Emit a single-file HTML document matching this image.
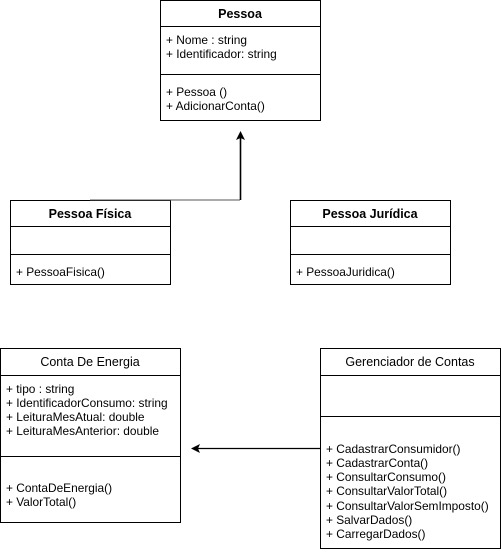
<!DOCTYPE html>
<html><head><style>body{margin:0;background:#fff}svg{display:block}text{font-family:"Liberation Sans",Arial,sans-serif;font-size:11.9px;fill:#000}.t{font-size:12.5px;font-weight:bold}.n{font-size:12.5px}</style></head><body>
<svg width="501" height="552" xmlns="http://www.w3.org/2000/svg">
<g fill="none" stroke="#000" stroke-width="1">
<rect x="160.5" y="0.5" width="160" height="120"/><line x1="160" y1="26.5" x2="320" y2="26.5"/><line x1="160" y1="74.5" x2="320" y2="74.5"/>
<rect x="10.5" y="200.5" width="160" height="84"/><line x1="10" y1="226.5" x2="170" y2="226.5"/><line x1="10" y1="254.5" x2="170" y2="254.5"/>
<rect x="290.5" y="200.5" width="160" height="84"/><line x1="290" y1="226.5" x2="450" y2="226.5"/><line x1="290" y1="254.5" x2="450" y2="254.5"/>
<rect x="0.5" y="348.5" width="180" height="174"/><line x1="0" y1="375.5" x2="180" y2="375.5"/><line x1="0" y1="456.5" x2="180" y2="456.5"/>
<rect x="320.5" y="348.5" width="180" height="200"/><line x1="320" y1="375.5" x2="500" y2="375.5"/><line x1="320" y1="416.5" x2="500" y2="416.5"/>
<line x1="90" y1="200" x2="240" y2="200" stroke="#555"/>
<line x1="240.5" y1="200" x2="240.5" y2="138" stroke-width="1.6"/>
<line x1="320" y1="448.5" x2="198" y2="448.5" stroke-width="1.3"/>
</g>
<path d="M240.5 131 L245 140 L240.5 138 L236 140 Z" fill="#000"/>
<path d="M191 448.5 L200 444 L198 448.5 L200 453 Z" fill="#000"/>
<text class="t" x="240" y="18" text-anchor="middle">Pessoa</text>
<text x="166" y="44">+ Nome : string</text><text x="166" y="58">+ Identificador: string</text>
<text x="166" y="96">+ Pessoa ()</text><text x="166" y="110">+ AdicionarConta()</text>
<text class="t" x="90" y="218" text-anchor="middle">Pessoa Física</text>
<text x="16" y="276">+ PessoaFisica()</text>
<text class="t" x="370" y="218" text-anchor="middle">Pessoa Jurídica</text>
<text x="296" y="276">+ PessoaJuridica()</text>
<text class="n" x="90" y="366" text-anchor="middle">Conta De Energia</text>
<text x="6" y="393">+ tipo : string</text><text x="6" y="407">+ IdentificadorConsumo: string</text><text x="6" y="421">+ LeituraMesAtual: double</text><text x="6" y="435">+ LeituraMesAnterior: double</text>
<text x="6" y="492">+ ContaDeEnergia()</text><text x="6" y="506">+ ValorTotal()</text>
<text class="n" x="410" y="366" text-anchor="middle">Gerenciador de Contas</text>
<text x="326" y="453">+ CadastrarConsumidor()</text><text x="326" y="467">+ CadastrarConta()</text><text x="326" y="481">+ ConsultarConsumo()</text><text x="326" y="495">+ ConsultarValorTotal()</text><text x="326" y="510">+ ConsultarValorSemImposto()</text><text x="326" y="524">+ SalvarDados()</text><text x="326" y="538">+ CarregarDados()</text>
</svg>
</body></html>
